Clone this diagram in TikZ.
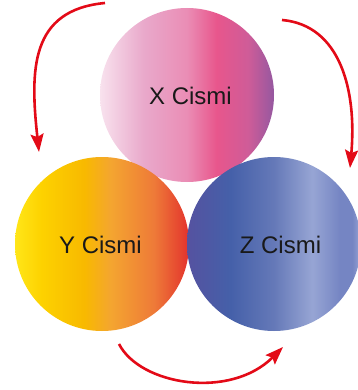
\documentclass[tikz,border=0pt]{standalone}
\usepackage{fontspec}
\setmainfont{Liberation Sans}
\usetikzlibrary{arrows.meta}

\definecolor{cyclered}{HTML}{E30A17}

% pink ball
\definecolor{xa}{HTML}{F8E2EE}
\definecolor{xb}{HTML}{E9A9CB}
\definecolor{xc}{HTML}{EA8DB5}
\definecolor{xd}{HTML}{E8568C}
\definecolor{xe}{HTML}{CF5C98}
\definecolor{xf}{HTML}{9558A0}
% yellow-orange ball
\definecolor{ya}{HTML}{FFE619}
\definecolor{yb}{HTML}{FDD200}
\definecolor{yc}{HTML}{F8B900}
\definecolor{yd}{HTML}{F4A530}
\definecolor{ye}{HTML}{EE7A38}
\definecolor{yf}{HTML}{E3322D}
% blue ball
\definecolor{za}{HTML}{5552A0}
\definecolor{zb}{HTML}{4560A9}
\definecolor{zc}{HTML}{6579B8}
\definecolor{zd}{HTML}{97A5D4}
\definecolor{ze}{HTML}{7585C3}
\definecolor{zf}{HTML}{98A6D5}

% the visible part of a shading runs from 25bp to 75bp
\pgfdeclarehorizontalshading{xshade}{100bp}{color(0bp)=(xa); color(25bp)=(xa);
  color(37.5bp)=(xb); color(50bp)=(xc); color(58.5bp)=(xd); color(67.5bp)=(xe);
  color(75bp)=(xf); color(100bp)=(xf)}
\pgfdeclarehorizontalshading{yshade}{100bp}{color(0bp)=(ya); color(25bp)=(ya);
  color(32.5bp)=(yb); color(45bp)=(yc); color(52.5bp)=(yd); color(65bp)=(ye);
  color(75bp)=(yf); color(100bp)=(yf)}
\pgfdeclarehorizontalshading{zshade}{100bp}{color(0bp)=(za); color(25bp)=(za);
  color(37.5bp)=(zb); color(50bp)=(zc); color(61bp)=(zd); color(69bp)=(ze);
  color(72.5bp)=(ze); color(75bp)=(zf); color(100bp)=(zf)}

\tikzset{
  ball/.style={circle, minimum size=174pt, inner sep=0pt, shade, shading=#1},
  balltext/.style={anchor=base, font=\fontsize{24}{28}\selectfont, text=black!90},
  cyclearrow/.style={draw=cyclered, line width=2.6pt,
    -{Stealth[length=18pt, width=13pt, inset=3pt]}},
}

\begin{document}
\begin{tikzpicture}[x=1pt, y=-1pt]
  \useasboundingbox (0,0) rectangle (357,390);

  % the three balls
  \node[ball=xshade] (X) at (187,95) {};
  \node[ball=yshade] (Y) at (102,244) {};
  \node[ball=zshade] (Z) at (274,244) {};

  % their names
  \node[balltext] (xlab) at (190.5,105) {X Cismi};
  \node[balltext] (ylab) at (100.5,253.3) {Y Cismi};
  \node[balltext] (zlab) at (280.5,253.3) {Z Cismi};

  % end points of the cycle arrows
  \coordinate (a1s) at (105,3);
  \coordinate (a1e) at (39,152);
  \coordinate (a2s) at (282,20);
  \coordinate (a2e) at (350,168);
  \coordinate (a3s) at (119,344);
  \coordinate (a3e) at (283,347);

  % the cycle arrows
  \draw[cyclearrow] (a1s) .. controls (30,10) and (30,70) .. (a1e);
  \draw[cyclearrow] (a2s) .. controls (340,25) and (357,90) .. (a2e);
  \draw[cyclearrow] (a3s) .. controls (140,385) and (230,400) .. (a3e);
\end{tikzpicture}
\end{document}
